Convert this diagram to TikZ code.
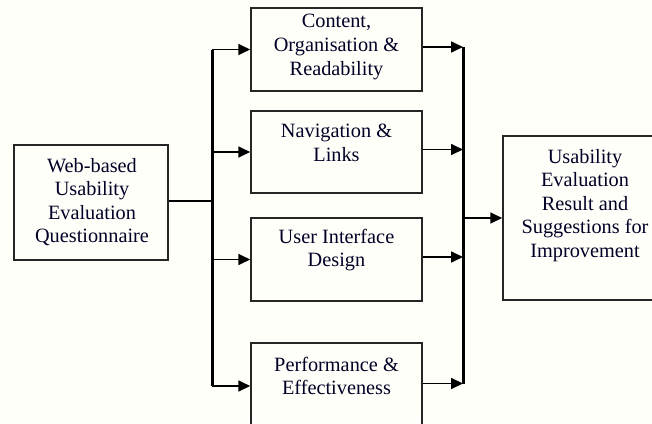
\documentclass[tikz,border=0pt]{standalone}
\usepackage{fontspec}
\setmainfont{Liberation Serif}
\usetikzlibrary{arrows.meta,calc}
\begin{document}
\begin{tikzpicture}[x=1pt,y=-1pt,
  boxnode/.style={draw=black!85, line width=1.5pt, rectangle, inner sep=0pt},
  txt/.style={align=center, font=\fontsize{20.3}{23.6}\selectfont, text=black!85!blue, inner sep=0pt},
  arr/.style={line width=1.7pt, -{Triangle[length=12pt,width=11pt]}},
  conn/.style={line width=1.7pt},
  bus/.style={line width=3pt}]
\useasboundingbox (0,0) rectangle (652,423);
\clip (0,0) rectangle (652,423);
\fill[white!98!yellow] (0,0) rectangle (652,423);
% boxes
\node[boxnode, minimum width=154pt, minimum height=115pt] (q) at (91,202.5) {};
\node[boxnode, minimum width=171pt, minimum height=83pt] (b1) at (336.5,49.5) {};
\node[boxnode, minimum width=171pt, minimum height=82pt] (b2) at (336.5,152) {};
\node[boxnode, minimum width=171pt, minimum height=83pt] (b3) at (336.5,259.5) {};
\node[boxnode, minimum width=171pt, minimum height=86pt] (b4) at (336.5,386) {};
\node[boxnode, minimum width=170pt, minimum height=164pt] (r) at (588,218) {};
% texts
\node[txt] (tq) at (92,202) {Web-based\\Usability\\Evaluation\\Questionnaire};
\node[txt] (t1) at (336.5,47) {Content,\\Organisation \&\\Readability};
\node[txt] (t2) at (336.5,143) {Navigation \&\\Links};
\node[txt] (t3) at (336.5,250) {User Interface\\Design};
\node[txt] (t4) at (336.5,376) {Performance \&\\Effectiveness};
\node[txt] (tr) at (585,205.5) {Usability\\Evaluation\\Result and\\Suggestions for\\Improvement};
% bus coordinates
\coordinate (lb) at (212,0);
\coordinate (rbus) at (463,0);
% left side
\draw[conn] ([yshift=1.5pt]q.east) -- ([yshift=1.5pt]q.east -| lb);
\draw[bus] (lb |- b1.west) -- (lb |- b4.west);
\foreach \b in {b1,b2,b3,b4}{
  \draw[arr] (lb |- \b.west) -- (\b.west);
}
% right side
\foreach \b in {b1,b2,b3,b4}{
  \draw[arr] ([yshift=2.5pt]\b.east) -- ([yshift=2.5pt]\b.east -| rbus);
}
\draw[bus] ([yshift=2.5pt]rbus |- b1.east) -- ([yshift=2.5pt]rbus |- b4.east);
\draw[arr] (rbus |- r.west) -- (r.west);
\end{tikzpicture}
\end{document}
